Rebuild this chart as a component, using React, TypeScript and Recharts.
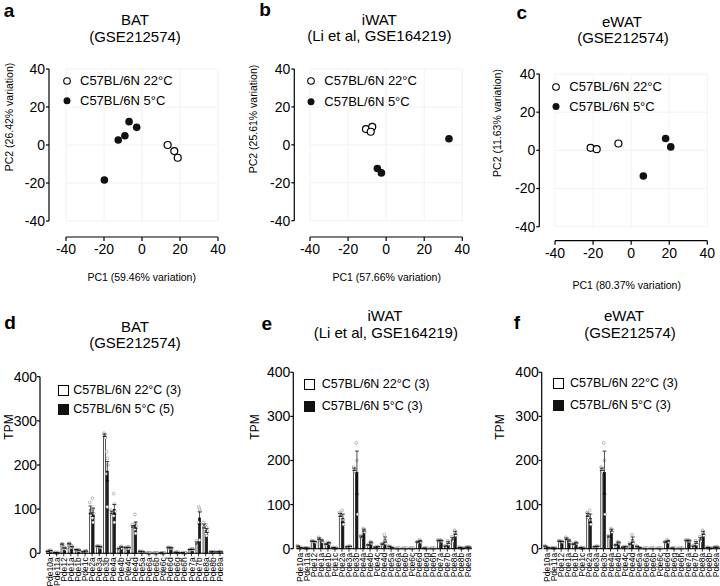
import React from 'react';
import { ScatterChart, Scatter, XAxis, YAxis, CartesianGrid, BarChart, Bar, ErrorBar } from 'recharts';

const FONT = "'Liberation Sans', Arial, Helvetica, sans-serif";

// PCA scores, [PC1, PC2] per sample
const batWarm = [[13.5, 0], [17, -3.2], [18.8, -6.7]];
const batCold = [[-6.8, 12.3], [-2.8, 9.3], [-9, 4.9], [-12.5, 2.6], [-19.8, -18.4]];
const iwatWarm = [[-10.6, 8.3], [-7.3, 9.5], [-8.1, 6.9]];
const iwatCold = [[-4.6, -12.5], [-2.5, -14.8], [33, 3.2]];
const ewatWarm = [[-21.3, 1.3], [-18.1, 0.6], [-6.7, 3.6]];
const ewatCold = [[18.1, 6.2], [20.8, 1.8], [6.4, -13.4]];

const pcTicks = [-40, -20, 0, 20, 40];
const tpmTicks = [0, 100, 200, 300, 400];

const genes = [
  'Pde10a', 'Pde11a', 'Pde12', 'Pde1a', 'Pde1b', 'Pde1c', 'Pde2a', 'Pde3a', 'Pde3b',
  'Pde4a', 'Pde4b', 'Pde4c', 'Pde4d', 'Pde5a', 'Pde6a', 'Pde6b', 'Pde6c', 'Pde6d',
  'Pde6g', 'Pde6h', 'Pde7a', 'Pde7b', 'Pde8a', 'Pde8b', 'Pde9a',
];

// TPM per replicate, one list per gene (same order as genes)
const bat22 = [
  [4, 5, 4], [2, 1, 2], [18, 22, 21], [20, 23, 22], [8, 9, 7], [3, 4, 3], [115, 95, 85],
  [16, 17, 15], [272, 268, 262], [98, 92, 88], [10, 12, 9], [13, 14, 12], [65, 60, 58],
  [5, 4, 4], [1, 1, 1], [1, 1, 1], [1, 0.5, 1], [13, 14, 12], [2, 2, 3], [1, 1, 2],
  [8, 9, 8], [28, 22, 20], [70, 60, 55], [3, 4, 3], [3, 3, 4],
];
const bat5 = [
  [6, 7, 5, 6, 6], [1, 1, 2, 1, 1], [12, 14, 10, 11, 13], [15, 17, 14, 13, 16], [7, 8, 6, 7, 7],
  [5, 6, 4, 5, 5], [125, 100, 90, 80, 70], [15, 16, 13, 14, 15], [230, 215, 200, 180, 105],
  [135, 112, 95, 85, 70], [15, 16, 13, 14, 12], [13, 15, 12, 14, 11], [88, 68, 62, 55, 45],
  [4, 3, 3, 4, 3], [1, 1, 1, 1, 1], [1, 1, 1, 1, 1], [1, 1, 1, 1, 1], [12, 13, 11, 12, 13],
  [2, 2, 1, 2, 2], [1, 1, 1, 1, 1], [9, 10, 8, 9, 10], [105, 100, 95, 70, 30],
  [65, 58, 50, 45, 40], [3, 3, 4, 3, 3], [3, 4, 3, 3, 3],
];
const iwat22 = [
  [7, 5, 4], [2, 2, 1], [18, 17, 16], [26, 22, 20], [10, 12, 9], [2, 3, 2], [82, 78, 70],
  [4, 5, 4], [185, 180, 175], [30, 27, 25], [8, 10, 7], [3, 4, 3], [12, 10, 8], [6, 5, 4],
  [1, 1, 1], [1, 1, 1], [1, 1, 1], [16, 15, 14], [1, 2, 1], [1, 1, 1], [20, 18, 17],
  [7, 5, 4], [28, 22, 18], [3, 3, 2], [3, 4, 3],
];
const iwat5 = [
  [2, 3, 2], [1, 1, 2], [17, 16, 15], [21, 18, 16], [15, 13, 12], [1, 1, 2], [87, 65, 55],
  [6, 5, 5], [240, 200, 78], [46, 42, 38], [16, 14, 12], [5, 4, 4], [32, 18, 12], [3, 2, 2],
  [1, 1, 1], [1, 1, 1], [1, 1, 1], [20, 17, 15], [1, 1, 1], [1, 1, 1], [20, 18, 17],
  [18, 14, 10], [42, 36, 30], [1, 2, 1], [4, 3, 3],
];
// panel f shows the same values as panel e
const ewat22 = iwat22;
const ewat5 = iwat5;

const mean = (v: number[]) => v.reduce((a, b) => a + b, 0) / v.length;
// standard error of the mean
const sem = (v: number[]) => {
  const m = mean(v);
  const sd = Math.sqrt(v.reduce((a, b) => a + (b - m) * (b - m), 0) / (v.length - 1));
  return sd / Math.sqrt(v.length);
};

function buildRows(warm: number[][], cold: number[][]) {
  return genes.map((gene, i) => ({
    gene,
    warm: mean(warm[i]),
    cold: mean(cold[i]),
    warmErr: sem(warm[i]),
    coldErr: sem(cold[i]),
    warmPts: warm[i],
    coldPts: cold[i],
  }));
}

const toPoints = (arr: number[][]) => arr.map(([x, y]) => ({ x, y }));

function Txt({ x, y, size = 12, bold = false, rotate = false, children }: any) {
  return (
    <div
      style={{
        position: 'absolute',
        left: x,
        top: y,
        fontSize: size,
        fontWeight: bold ? 'bold' : 'normal',
        whiteSpace: 'nowrap',
        lineHeight: 1,
        transform: `translate(-50%, -50%)${rotate ? ' rotate(-90deg)' : ''}`,
      }}
    >
      {children}
    </div>
  );
}

function DotLegend({ x, y1, y2, textX }: any) {
  return (
    <>
      <svg style={{ position: 'absolute', left: x - 5, top: y1 - 5 }} width={10} height={y2 - y1 + 10}>
        <circle cx={5} cy={5} r={3.3} fill="#fff" stroke="#000" strokeWidth={1.1} />
        <circle cx={5} cy={y2 - y1 + 5} r={3.5} fill="#111" />
      </svg>
      <div style={{ position: 'absolute', left: textX, top: y1 - 7, fontSize: 13, lineHeight: '14px' }}>C57BL/6N 22°C</div>
      <div style={{ position: 'absolute', left: textX, top: y2 - 7, fontSize: 13, lineHeight: '14px' }}>C57BL/6N 5°C</div>
    </>
  );
}

function BoxLegend({ x, y1, y2, textX, n1, n2 }: any) {
  return (
    <>
      <div style={{ position: 'absolute', left: x, top: y1 - 5, width: 9, height: 9, border: '1px solid #000', background: '#fff' }} />
      <div style={{ position: 'absolute', left: x, top: y2 - 5, width: 11, height: 11, background: '#111' }} />
      <div style={{ position: 'absolute', left: textX, top: y1 - 7, fontSize: 12.5, lineHeight: '14px' }}>{`C57BL/6N 22°C (${n1})`}</div>
      <div style={{ position: 'absolute', left: textX, top: y2 - 7, fontSize: 12.5, lineHeight: '14px' }}>{`C57BL/6N 5°C (${n2})`}</div>
    </>
  );
}

const openDot = (p: any) => <circle cx={p.cx} cy={p.cy} r={3.5} fill="#fff" stroke="#000" strokeWidth={1.2} />;
const fullDot = (p: any) => <circle cx={p.cx} cy={p.cy} r={3.8} fill="#111" />;

function PcaPanel({ left, plotLeft, plotRight, plotTop, plotBottom, yAxisX, xAxisY, warm, cold }: any) {
  const W = 240;
  const H = 260;
  return (
    <div style={{ position: 'absolute', left, top: 0 }}>
      <ScatterChart
        width={W}
        height={H}
        margin={{ left: yAxisX - 40, right: W - plotRight, top: plotTop, bottom: H - xAxisY - 22 }}
      >
        <CartesianGrid xAxisId="main" yAxisId="main" stroke="#efefef" strokeWidth={0.8} />
        <XAxis xAxisId="gap" type="number" domain={[-40, 40]} height={xAxisY - plotBottom} tick={false} tickLine={false} axisLine={false} />
        <XAxis
          xAxisId="main"
          type="number"
          dataKey="x"
          domain={[-40, 40]}
          ticks={pcTicks}
          height={22}
          tickSize={4}
          tickMargin={3}
          axisLine={{ stroke: '#000', strokeWidth: 1.2 }}
          tickLine={{ stroke: '#000', strokeWidth: 1.2 }}
          tick={{ fill: '#000', fontSize: 14 }}
        />
        <YAxis yAxisId="gap" type="number" domain={[-40, 40]} width={plotLeft - yAxisX} tick={false} tickLine={false} axisLine={false} />
        <YAxis
          yAxisId="main"
          type="number"
          dataKey="y"
          domain={[-40, 40]}
          ticks={pcTicks}
          width={40}
          tickSize={3}
          tickMargin={1}
          axisLine={{ stroke: '#000', strokeWidth: 1.2 }}
          tickLine={{ stroke: '#000', strokeWidth: 1.2 }}
          tick={{ fill: '#000', fontSize: 14 }}
        />
        <Scatter xAxisId="main" yAxisId="main" data={toPoints(warm)} shape={openDot} isAnimationActive={false} />
        <Scatter xAxisId="main" yAxisId="main" data={toPoints(cold)} shape={fullDot} isAnimationActive={false} />
      </ScatterChart>
    </div>
  );
}

function makeBarShape(meanKey: string, ptsKey: string, fill: string) {
  return (props: any) => {
    const { x, y, width, height, payload } = props;
    const m = payload[meanKey];
    const k = m > 0 ? height / m : 0;
    const base = y + height;
    const pts: number[] = payload[ptsKey];
    return (
      <g>
        <rect x={x} y={y} width={width} height={height} fill={fill} stroke="#111" strokeWidth={0.7} />
        {pts.map((v, j) => (
          <circle
            key={j}
            cx={x + width / 2 + ((j % 3) - 1) * 0.7}
            cy={base - v * k}
            r={1.4}
            fill="#fff"
            stroke="#777"
            strokeWidth={0.5}
          />
        ))}
      </g>
    );
  };
}

const CatTick = ({ x, y, payload }: any) => (
  <text x={x} y={y} transform={`rotate(-90 ${x} ${y})`} textAnchor="end" dominantBaseline="central" fontSize={8.5} fill="#000">
    {payload.value}
  </text>
);

function TpmPanel({ left, yAxisX, plotLeft, plotRight, plotTop, plotBottom, rows }: any) {
  const W = 240;
  const xAxisH = 33;
  const H = plotBottom + xAxisH;
  return (
    <div style={{ position: 'absolute', left, top: 310 }}>
      <BarChart
        width={W}
        height={H}
        data={rows}
        margin={{ left: yAxisX - 34, right: W - plotRight, top: plotTop, bottom: 0 }}
        barCategoryGap="12%"
        barGap={0.6}
      >
        <XAxis
          dataKey="gene"
          interval={0}
          height={xAxisH}
          tickSize={3}
          tickMargin={1}
          axisLine={{ stroke: '#000', strokeWidth: 1.1 }}
          tickLine={{ stroke: '#000', strokeWidth: 0.8 }}
          tick={<CatTick />}
        />
        <YAxis yAxisId="gap" type="number" domain={[0, 400]} width={plotLeft - yAxisX} tick={false} tickLine={false} axisLine={false} />
        <YAxis
          yAxisId="main"
          type="number"
          domain={[0, 400]}
          ticks={tpmTicks}
          width={34}
          tickSize={3}
          tickMargin={0}
          axisLine={{ stroke: '#000', strokeWidth: 1.2 }}
          tickLine={{ stroke: '#000', strokeWidth: 1.2 }}
          tick={{ fill: '#000', fontSize: 14 }}
        />
        <Bar yAxisId="main" dataKey="warm" shape={makeBarShape('warm', 'warmPts', '#fff')} isAnimationActive={false}>
          <ErrorBar dataKey="warmErr" direction="y" width={2} stroke="#000" strokeWidth={0.7} />
        </Bar>
        <Bar yAxisId="main" dataKey="cold" shape={makeBarShape('cold', 'coldPts', '#1a1a1a')} isAnimationActive={false}>
          <ErrorBar dataKey="coldErr" direction="y" width={2} stroke="#000" strokeWidth={0.7} />
        </Bar>
      </BarChart>
    </div>
  );
}

export default function App() {
  const batRows = buildRows(bat22, bat5);
  const iwatRows = buildRows(iwat22, iwat5);
  const ewatRows = buildRows(ewat22, ewat5);
  return (
    <div style={{ position: 'absolute', left: 0, top: 0, width: 720, height: 586, background: '#fff', fontFamily: FONT, color: '#000', overflow: 'hidden' }}>
      {/* top row: PCA */}
      <PcaPanel left={0} plotLeft={66} plotRight={218} plotTop={69} plotBottom={221} yAxisX={49} xAxisY={237} warm={batWarm} cold={batCold} />
      <PcaPanel left={240} plotLeft={70} plotRight={222.3} plotTop={69} plotBottom={220.7} yAxisX={54.3} xAxisY={237} warm={iwatWarm} cold={iwatCold} />
      <PcaPanel left={480} plotLeft={75} plotRight={227.3} plotTop={74} plotBottom={226.7} yAxisX={59.3} xAxisY={240.7} warm={ewatWarm} cold={ewatCold} />

      <Txt x={9} y={10} size={19} bold>a</Txt>
      <Txt x={135} y={19} size={15}>BAT</Txt>
      <Txt x={135} y={36} size={15}>(GSE212574)</Txt>
      <Txt x={141.7} y={277} size={10.5}>PC1 (59.46% variation)</Txt>
      <Txt x={9} y={117} size={10.5} rotate>PC2 (26.42% variation)</Txt>
      <DotLegend x={66.7} y1={81} y2={100.7} textX={80} />

      <Txt x={265} y={9} size={19} bold>b</Txt>
      <Txt x={379.3} y={19} size={15}>iWAT</Txt>
      <Txt x={379.3} y={35} size={15}>(Li et al, GSE164219)</Txt>
      <Txt x={386.7} y={277} size={10.5}>PC1 (57.66% variation)</Txt>
      <Txt x={253.3} y={119} size={10.5} rotate>PC2 (25.61% variation)</Txt>
      <DotLegend x={311} y1={81} y2={101.7} textX={324.3} />

      <Txt x={521.7} y={12} size={19} bold>c</Txt>
      <Txt x={622} y={21} size={15}>eWAT</Txt>
      <Txt x={623} y={37} size={15}>(GSE212574)</Txt>
      <Txt x={626.7} y={285} size={10.5}>PC1 (80.37% variation)</Txt>
      <Txt x={496.7} y={123} size={10.5} rotate>PC2 (11.63% variation)</Txt>
      <DotLegend x={556} y1={87.3} y2={106.7} textX={569.3} />

      {/* bottom row: TPM bars */}
      <TpmPanel left={0} yAxisX={40} plotLeft={46} plotRight={223.5} plotTop={66.7} plotBottom={243.3} rows={batRows} />
      <TpmPanel left={240} yAxisX={53.3} plotLeft={56.3} plotRight={231.9} plotTop={62.3} plotBottom={238.7} rows={iwatRows} />
      <TpmPanel left={480} yAxisX={61.7} plotLeft={63.5} plotRight={240} plotTop={62.3} plotBottom={238.7} rows={ewatRows} />

      <Txt x={10} y={322} size={19} bold>d</Txt>
      <Txt x={135} y={326} size={15}>BAT</Txt>
      <Txt x={135} y={342} size={15}>(GSE212574)</Txt>
      <Txt x={9} y={427} size={12} rotate>TPM</Txt>
      <BoxLegend x={58} y1={390} y2={409.3} textX={73.3} n1={3} n2={5} />

      <Txt x={266.7} y={323} size={19} bold>e</Txt>
      <Txt x={385} y={315} size={15}>iWAT</Txt>
      <Txt x={385.8} y={331.7} size={15}>(Li et al, GSE164219)</Txt>
      <Txt x={255} y={427} size={12} rotate>TPM</Txt>
      <BoxLegend x={304} y1={384} y2={406} textX={321.7} n1={3} n2={3} />

      <Txt x={517} y={322} size={19} bold>f</Txt>
      <Txt x={624} y={315} size={15}>eWAT</Txt>
      <Txt x={630} y={332} size={15}>(GSE212574)</Txt>
      <Txt x={500} y={427} size={12} rotate>TPM</Txt>
      <BoxLegend x={552.7} y1={382.7} y2={404.7} textX={570} n1={3} n2={3} />
    </div>
  );
}
